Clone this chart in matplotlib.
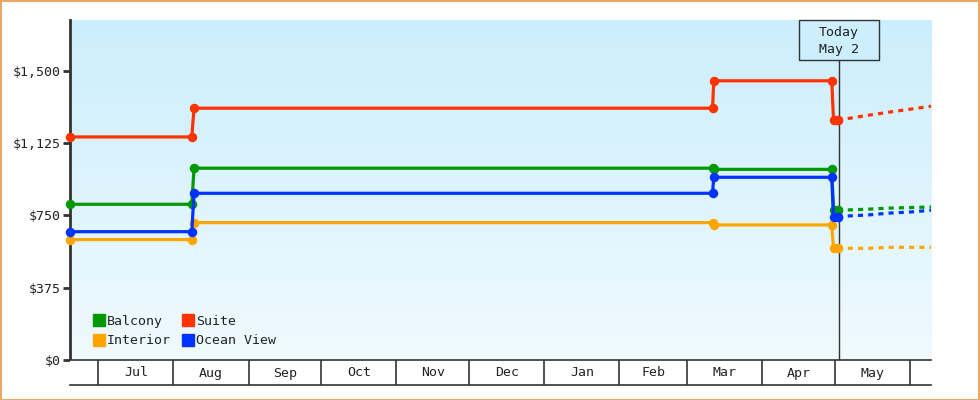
import matplotlib
matplotlib.use("Agg")
import matplotlib.pyplot as plt
import matplotlib.dates as mdates
from matplotlib.lines import Line2D
from matplotlib.patches import Rectangle
import matplotlib.transforms as mtransforms
import numpy as np
from datetime import datetime, timedelta

# ---------------- data ----------------
series_names = ["Balcony", "Interior", "Suite", "Ocean View"]
series_colors = ["#009900", "#FFA500", "#FF3300", "#0033FF"]

hist_dates = ["2024-06-19 08:00", "2024-08-08 14:00", "2024-08-09 12:00", "2025-03-11 10:00",
              "2025-03-11 22:00", "2025-04-29 14:00", "2025-04-30 08:00", "2025-05-02"]
balcony_hist = [807, 807, 994, 994, 988, 988, 778, 778]
interior_hist = [624, 624, 712, 712, 700, 700, 579, 579]
suite_hist = [1156, 1156, 1305, 1305, 1447, 1447, 1244, 1244]
ocean_hist = [665, 665, 864, 864, 947, 947, 740, 740]

future_dates = ["2025-05-02", "2025-05-07", "2025-05-15", "2025-05-23",
                "2025-06-01", "2025-06-09 13:00"]
balcony_future = [778, 778, 782, 787, 790, 793]
interior_future = [579, 579, 579, 584, 584, 584]
suite_future = [1244, 1253, 1269, 1284, 1300, 1315]
ocean_future = [740, 747, 752, 761, 767, 776]

ytick_values = [0, 375, 750, 1125, 1500]
ytick_labels = ["$0", "$375", "$750", "$1,125", "$1,500"]

month_labels = ["Jul", "Aug", "Sep", "Oct", "Nov", "Dec", "Jan", "Feb", "Mar", "Apr", "May"]
month_starts = ["2024-07-01", "2024-08-01", "2024-09-01", "2024-10-01", "2024-11-01",
                "2024-12-01", "2025-01-01", "2025-02-01", "2025-03-01", "2025-04-01",
                "2025-05-01", "2025-06-01"]

today_date = "2025-05-02 10:00"
today_label = "Today\nMay 2"

x_start = "2024-06-19 08:00"
x_end = "2025-06-09 13:00"
y_max = 1762

# ---------------- helpers ----------------
def d(s):
    fmt = "%Y-%m-%d %H:%M" if " " in s else "%Y-%m-%d"
    return datetime.strptime(s, fmt)

hist_x = [d(s) for s in hist_dates]
fut_x = [d(s) for s in future_dates]
hist_vals = [balcony_hist, interior_hist, suite_hist, ocean_hist]
fut_vals = [balcony_future, interior_future, suite_future, ocean_future]

FONT = "DejaVu Sans Mono"
FS = 9.5
TXT = "#222222"
DARK = "#333333"

fig = plt.figure(figsize=(9.8, 4.0), dpi=100)
fig.patch.set_facecolor("white")

W, H = 980.0, 400.0
L, R, T, B = 70, 931, 20, 360
ax = fig.add_axes([L / W, (H - B) / H, (R - L) / W, (B - T) / H])
band = fig.add_axes([L / W, (H - 385) / H, (R - L) / W, 25 / H], sharex=ax)

xs, xe = d(x_start), d(x_end)
ax.set_xlim(xs, xe)
ax.set_ylim(0, y_max)

# gradient background
grad = np.linspace(0, 1, 256).reshape(-1, 1)
top = np.array([204, 238, 252]) / 255.0
bot = np.array([240, 250, 255]) / 255.0
img = top[None, None, :] * (1 - grad[:, :, None]) + bot[None, None, :] * grad[:, :, None]
ax.imshow(img, extent=[0, 1, 0, 1], transform=ax.transAxes, aspect="auto", zorder=0)
ax.set_facecolor("none")

# series
for name, col, hv, fv in zip(series_names, series_colors, hist_vals, fut_vals):
    ax.plot(hist_x, hv, color=col, lw=2.3, marker="o", ms=5.8, mec=col, mfc=col,
            zorder=4, clip_on=False, solid_joinstyle="miter")
    ax.plot(fut_x, fv, color=col, lw=2.3, linestyle=(0, (1.6, 1.6)),
            dash_capstyle="butt", zorder=4)
    ax.plot([fut_x[0]], [fv[0]], color=col, marker="o", ms=5.8, zorder=4)

# today line and box
tdate = d(today_date)
box_frac = (B - 60.3) / (B - T)
ax.axvline(tdate, ymin=0, ymax=box_frac, color=DARK, lw=1.0, zorder=3)
trans = mtransforms.blended_transform_factory(ax.transData, ax.transAxes)
half = timedelta(days=16.5)
ax.add_patch(Rectangle((mdates.date2num(tdate - half), box_frac),
                       mdates.date2num(tdate + half) - mdates.date2num(tdate - half),
                       1 - box_frac, transform=trans, facecolor="#CDEEFC",
                       edgecolor=DARK, lw=1.0, zorder=5, clip_on=False))
ax.text(tdate, (B - 41) / (B - T), today_label, transform=trans, ha="center",
        va="center", fontsize=FS, family=FONT, color=TXT, zorder=6, linespacing=1.35)

# y axis
ax.set_yticks(ytick_values)
ax.set_yticklabels(ytick_labels, fontsize=FS, family=FONT, color=TXT)
ax.tick_params(axis="y", length=5, width=2, color=DARK, pad=2)
ax.tick_params(axis="x", bottom=False, labelbottom=False)
for s in ["top", "right", "bottom"]:
    ax.spines[s].set_visible(False)
ax.spines["left"].set_color(DARK)
ax.spines["left"].set_linewidth(2)

# month band
band.set_ylim(0, 1)
band.set_facecolor("white")
for s in ["left", "right"]:
    band.spines[s].set_visible(False)
for s in ["top", "bottom"]:
    band.spines[s].set_color(DARK)
    band.spines[s].set_linewidth(1.2)
band.set_yticks([])
band.tick_params(axis="x", bottom=False, labelbottom=False)
ms = [d(s) for s in month_starts]
for m in ms:
    band.axvline(m, color=DARK, lw=1.2)
for i, lab in enumerate(month_labels):
    mid = ms[i] + (ms[i + 1] - ms[i]) / 2
    band.text(mid, 0.48, lab, ha="center", va="center", fontsize=FS, family=FONT, color=TXT)

# legend
handles = [Line2D([], [], linestyle="none", marker="s", ms=8, mfc=c, mec=c)
           for c in series_colors]
leg = ax.legend(handles, series_names, ncol=2, loc="lower left",
                bbox_to_anchor=((86 - L) / (R - L), (B - 354) / (B - T)),
                frameon=False, borderpad=0, handlelength=0.9, handletextpad=0.15,
                columnspacing=0.9, labelspacing=0.5,
                prop={"family": FONT, "size": FS})
for t in leg.get_texts():
    t.set_color(TXT)
leg.set_zorder(7)

# orange border
fig.add_artist(Rectangle((0.5 / W, 0.5 / H), 1 - 1.5 / W, 1 - 1.5 / H,
                         transform=fig.transFigure, fill=False,
                         edgecolor="#EAA864", lw=1.5))

fig.savefig("out.png", dpi=100)
